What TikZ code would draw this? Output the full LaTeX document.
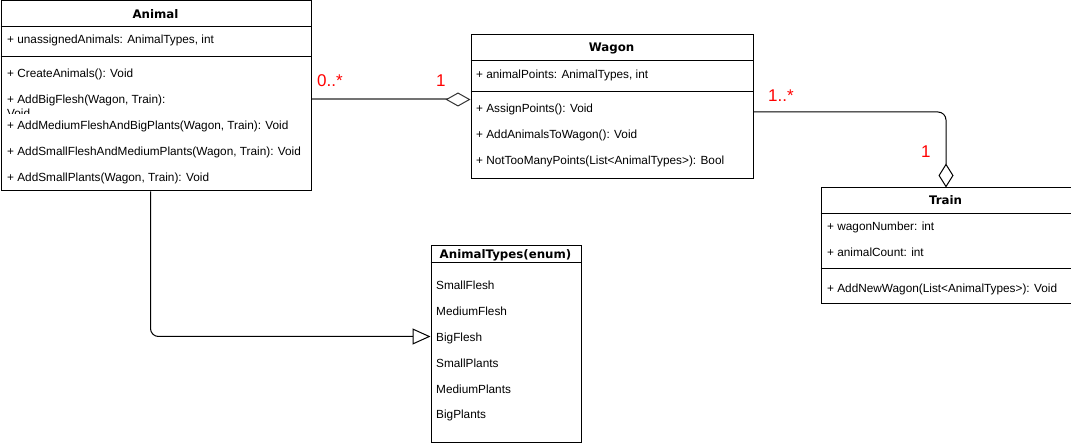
\documentclass[tikz,border=0pt]{standalone}
\usepackage{fontspec}
\setmainfont{Liberation Sans}
\newfontfamily\titlefont{DejaVu Sans}
\usepackage{xcolor}
\usetikzlibrary{arrows.meta}

\definecolor{mred}{HTML}{FF0000}
\tikzset{
  classbox/.style={draw=black,line width=1pt,fill=white,anchor=north west,inner sep=0pt},
  ctitle/.style={anchor=base,inner sep=0pt,font=\titlefont\bfseries\fontsize{11.8}{13}\selectfont},
  citem/.style={anchor=base west,inner sep=0pt,font=\fontsize{11.8}{13}\selectfont},
  mult/.style={anchor=base west,inner sep=0pt,text=mred,font=\fontsize{17}{19}\selectfont},
  sepline/.style={draw=black,line width=1pt}
}

\begin{document}
\begin{tikzpicture}[x=1pt,y=-1pt]
\useasboundingbox (0,0) rectangle (1071,443);

% Animal
\node[classbox,minimum width=310pt,minimum height=190pt] (animal) at (0.5,0.5){};
\draw[sepline] (0.5,26.5)--(310.5,26.5) (0.5,56.5)--(310.5,56.5);
\node[ctitle] (animalt) at (155.5,18.5){Animal};
\node[citem] (animal1) at (7,44){+ unassignedAnimals: AnimalTypes, int};
\node[citem] (animal2) at (7,78){+ CreateAnimals(): Void};
\node[citem] (animal3) at (7,104){+ AddBigFlesh(Wagon, Train):};
\begin{scope}
\clip (2,106) rectangle (120,113.5);
\node[citem] (animal3b) at (7,117.5){Void};
\end{scope}
\node[citem] (animal4) at (7,130){+ AddMediumFleshAndBigPlants(Wagon, Train): Void};
\node[citem] (animal5) at (7,156){+ AddSmallFleshAndMediumPlants(Wagon, Train): Void};
\node[citem] (animal6) at (7,182){+ AddSmallPlants(Wagon, Train): Void};

% Wagon
\node[classbox,minimum width=282pt,minimum height=144pt] (wagon) at (470.5,34.5){};
\draw[sepline] (470.5,60.5)--(752.5,60.5) (470.5,91.5)--(752.5,91.5);
\node[ctitle] (wagont) at (611.5,52){Wagon};
\node[citem] (wagon1) at (476,78.3){+ animalPoints: AnimalTypes, int};
\node[citem] (wagon2) at (476,112.3){+ AssignPoints(): Void};
\node[citem] (wagon3) at (476,138.3){+ AddAnimalsToWagon(): Void};
\node[citem] (wagon4) at (476,164.3){+ NotTooManyPoints(List<AnimalTypes>): Bool};

% Train
\node[classbox,minimum width=250pt,minimum height=116pt] (train) at (820.5,187.5){};
\draw[sepline] (820.5,213.5)--(1070.5,213.5) (820.5,268.5)--(1070.5,268.5);
\node[ctitle] (traint) at (945.5,204.5){Train};
\node[citem] (train1) at (827,230.7){+ wagonNumber: int};
\node[citem] (train2) at (827,256.7){+ animalCount: int};
\node[citem] (train3) at (827,292.7){+ AddNewWagon(List<AnimalTypes>): Void};

% AnimalTypes
\node[classbox,minimum width=150pt,minimum height=196pt] (enum) at (430.5,245.5){};
\draw[sepline] (430.5,262.5)--(580.5,262.5);
\node[ctitle] (enumt) at (505.5,258.5){AnimalTypes(enum)};
\node[citem] (enum1) at (436,289.3){SmallFlesh};
\node[citem] (enum2) at (436,315.3){MediumFlesh};
\node[citem] (enum3) at (436,341.3){BigFlesh};
\node[citem] (enum4) at (436,367.3){SmallPlants};
\node[citem] (enum5) at (436,393.3){MediumPlants};
\node[citem] (enum6) at (436,418.8){BigPlants};

% connectors
\draw[black!55,line width=2pt,-{Diamond[open,fill=white,color=black!80,line width=1pt,length=25pt,width=14pt]}]
  ([yshift=-3.5pt]animal.east) -- ([yshift=-3.5pt]animal.east -| wagon.west);
\draw[black,line width=1pt,rounded corners=8pt,-{Diamond[open,fill=white,length=24pt,width=15pt]}]
  ([yshift=-5pt]wagon.east) -| (train.north);
\draw[black,line width=1pt,rounded corners=8pt,-{Triangle[open,fill=white,length=18pt,width=16pt]}]
  ([xshift=-5.5pt]animal.south) |- ([yshift=7.5pt]enum.west);

\node[mult] (m1) at (317,86.7){0..*};
\node[mult] (m2) at (436,86.7){1};
\node[mult] (m3) at (768,101.7){1..*};
\node[mult] (m4) at (921,157.3){1};
\end{tikzpicture}
\end{document}
